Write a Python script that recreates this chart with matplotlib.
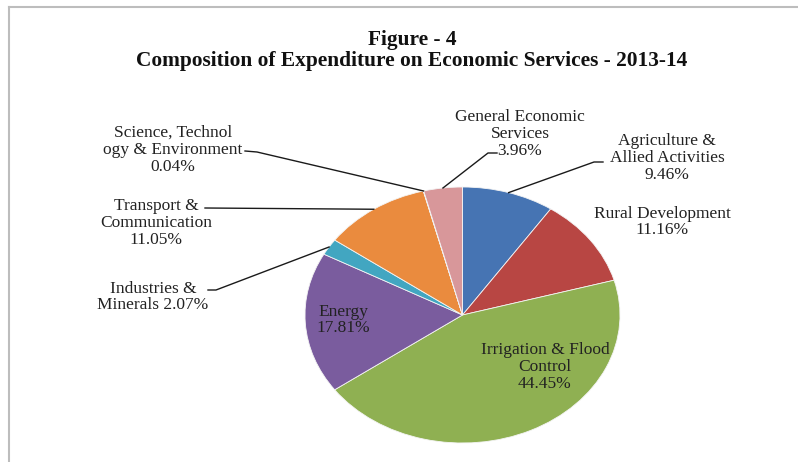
import numpy as np
import matplotlib
matplotlib.use('Agg')
from matplotlib import pyplot as plt

# data
categories = ['Agriculture &\nAllied Activities', 'Rural Development', 'Irrigation & Flood\nControl',
              'Energy', 'Industries &\nMinerals', 'Transport &\nCommunication',
              'Science, Technol\nogy & Environment', 'General Economic\nServices']
shares = [9.46, 11.16, 44.45, 17.81, 2.07, 11.05, 0.04, 3.96]
colors = ['#4674b3', '#b84643', '#8fb052', '#7a5c9e', '#42a6c1', '#ea8b3e', '#c0504d', '#d8979a']

W, H = 798, 462
cx, cy, rx, ry = 462.5, 315.0, 157.5, 128.0   # pie centre / radii in pixels


def px(x, y):
    # pixel (from top left) -> data coords of the pie axes
    return (x - cx) / rx, (cy - y) / ry


fig = plt.figure(figsize=(W / 100, H / 100), dpi=100)
ax = fig.add_axes([0, 0, 1, 1])
wedges, _ = ax.pie(shares, colors=colors, startangle=90, counterclock=False,
                   radius=1, wedgeprops=dict(edgecolor='#f4f4f4', linewidth=0.6))
ax.set_aspect('auto')
ax.set_xlim(px(0, 0)[0], px(W, 0)[0])
ax.set_ylim(px(0, H)[1], px(0, 0)[1])
ax.axis('off')

font = 'Liberation Serif'
fs = 12.5

# label text position (pixel) and leader elbow/end (pixel, None = inside label)
layout = {
    0: ((667, 158), [(594, 162), (603, 162)]),
    1: ((662, 222), None),
    2: ((545, 367), None),
    3: ((343, 320), None),
    4: ((153, 297), [(216, 290), (208, 290)]),
    5: ((156, 223), [(205, 208)]),
    6: ((173, 150), [(257, 152), (245, 151)]),
    7: ((520, 134), [(488, 153), (497, 153)]),
}

for i, (name, val) in enumerate(zip(categories, shares)):
    (tx, ty), leader = layout[i]
    if i == 4:
        txt = 'Industries &\nMinerals %.2f%%' % val
    else:
        txt = '%s\n%.2f%%' % (name, val)
    ax.text(*px(tx, ty), txt, ha='center', va='center', multialignment='center',
            fontsize=fs, family=font, color='#222222', linespacing=1.08)
    if leader:
        w = wedges[i]
        mid = np.deg2rad((w.theta1 + w.theta2) / 2)
        xs = [np.cos(mid)] + [px(*p)[0] for p in leader]
        ys = [np.sin(mid)] + [px(*p)[1] for p in leader]
        ax.plot(xs, ys, color='#1a1a1a', lw=1.0)

fig.text(412 / W, 1 - 40 / H, 'Figure - 4', ha='center', va='center',
         fontsize=15.4, family=font, weight='bold', color='#111111')
fig.text(412 / W, 1 - 61 / H, 'Composition of Expenditure on Economic Services - 2013-14',
         ha='center', va='center', fontsize=15.4, family=font, weight='bold', color='#111111')

# chart frame (top and left edges visible)
fig.add_artist(plt.Line2D([9 / W, 1], [1 - 7 / H, 1 - 7 / H], color='#bdbdbd', lw=1.5))
fig.add_artist(plt.Line2D([9 / W, 9 / W], [0, 1 - 7 / H], color='#bdbdbd', lw=1.5))

fig.savefig('out.png', dpi=100)
